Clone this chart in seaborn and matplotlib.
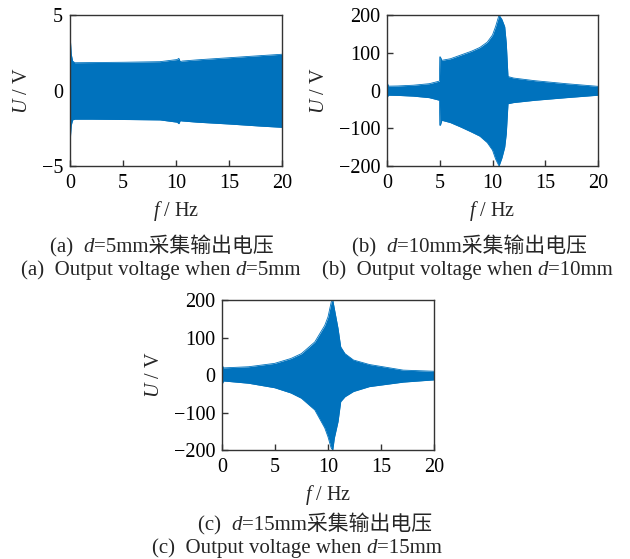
import numpy as np
import pandas as pd
import matplotlib
matplotlib.use("Agg")
import matplotlib.pyplot as plt
import seaborn as sns

# ---------------- data (envelopes of the output voltage signals) ----------------
# (a) d = 5 mm
f_a = [0.0, 0.05, 0.12, 0.25, 0.45, 2.0, 5.0, 8.5, 10.1, 10.27, 10.4, 10.6, 12.0, 15.0, 18.0, 20.0]
up_a = [3.5, 3.2, 2.4, 1.95, 1.84, 1.85, 1.87, 1.91, 2.05, 2.13, 1.91, 1.95, 2.03, 2.17, 2.31, 2.40]
lo_a = [-3.4, -3.0, -2.3, -1.95, -1.90, -1.90, -1.92, -1.95, -2.10, -2.20, -2.00, -2.02, -2.10, -2.22, -2.36, -2.44]

# (b) d = 10 mm
f_b = [0.0, 0.05, 0.15, 1.0, 2.5, 4.0, 4.7, 4.97, 5.0, 5.06, 5.2, 6.0, 7.0, 8.0, 8.8, 9.5, 10.0,
       10.3, 10.62, 10.9, 11.16, 11.31, 11.47, 12.0, 14.0, 17.0, 20.0]
up_b = [22, 18, 11.5, 12, 14, 18, 23, 25, 89, 89, 80, 84, 94, 104, 114, 128, 147,
        170, 200, 188, 169, 125, 37, 33, 26, 18, 11]
lo_b = [-20, -16, -12.5, -13, -15, -19, -24, -26, -92, -92, -79, -85, -97, -110, -121, -138, -158,
        -182, -200, -178, -150, -114, -35, -32, -26, -19, -12.5]

# (c) d = 15 mm
f_c = [0.0, 0.05, 0.15, 2.5, 4.97, 6.5, 7.49, 8.75, 9.69, 10.0, 10.3, 10.45, 10.6, 10.95,
       11.2, 11.6, 12.4, 13.9, 17.1, 20.0]
up_c = [30, 24, 19, 22, 31, 44, 57, 88, 132, 155, 194, 200, 177, 124,
        75, 57, 40, 28, 13, 10]
lo_c = [-28, -22, -16, -22, -34, -48, -62, -93, -141, -165, -195, -200, -168, -124,
        -71, -58, -44, -31, -19, -13]

x_ticks = [0, 5, 10, 15, 20]
y_ticks_a = [-5, 0, 5]
y_ticks_bc = [-200, -100, 0, 100, 200]

# ---------------- style ----------------
sns.set_theme(style="ticks")
plt.rcParams["font.family"] = ["Liberation Serif", "Noto Sans CJK SC"]
plt.rcParams["mathtext.fontset"] = "custom"
plt.rcParams["mathtext.rm"] = "Liberation Serif"
plt.rcParams["mathtext.it"] = "Liberation Serif:italic"
plt.rcParams["axes.unicode_minus"] = True

BLUE = "#0072BD"
SPINE = "#333333"
FS = 14.5
CFS = 15

W, H = 630, 559
fig = plt.figure(figsize=(W / 100, H / 100), dpi=100)
fig.patch.set_facecolor("white")


def make_axes(left, top, right, bottom):
    return fig.add_axes([left / W, 1 - bottom / H, (right - left) / W, (bottom - top) / H])


ax_a = make_axes(70, 15, 282, 166)
ax_b = make_axes(387, 15, 598, 166)
ax_c = make_axes(222, 300, 434, 450)

panels = [
    (ax_a, f_a, up_a, lo_a, (-5, 5), y_ticks_a),
    (ax_b, f_b, up_b, lo_b, (-200, 200), y_ticks_bc),
    (ax_c, f_c, up_c, lo_c, (-200, 200), y_ticks_bc),
]

for ax, f, up, lo, ylim, yt in panels:
    df = pd.DataFrame({"f": f, "up": up, "lo": lo})
    ax.fill_between(df["f"], df["lo"], df["up"], color=BLUE, lw=0)
    sns.lineplot(data=df, x="f", y="up", ax=ax, color=BLUE, lw=0.6, estimator=None, sort=False)
    sns.lineplot(data=df, x="f", y="lo", ax=ax, color=BLUE, lw=0.6, estimator=None, sort=False)
    ax.set_xlim(0, 20)
    ax.set_ylim(*ylim)
    ax.set_xticks(x_ticks)
    ax.set_yticks(yt)
    ax.tick_params(direction="in", length=4, width=1, colors=SPINE, labelcolor="black",
                   labelsize=FS, pad=5, top=False, right=False)
    ax.tick_params(axis="x", pad=6)
    for s in ax.spines.values():
        s.set_visible(True)
        s.set_color(SPINE)
        s.set_linewidth(1.0)
    ax.set_xlabel("$f$ / Hz", fontsize=FS, labelpad=4)
    ax.set_ylabel("$U$ / V", fontsize=FS, labelpad=7)
    ax.set_facecolor("white")


def caption(x_px, y_px, parts):
    prev = None
    for txt, style in parts:
        if prev is None:
            prev = fig.text(x_px / W, 1 - y_px / H, txt, ha="left", va="bottom",
                            fontsize=CFS, fontstyle=style)
        else:
            prev = fig.add_artist(matplotlib.text.Annotation(
                txt, xy=(1, 0), xycoords=prev, ha="left", va="bottom",
                fontsize=CFS, fontstyle=style, annotation_clip=False))


caption(50, 257, [("(a)  ", "normal"), ("d", "italic"), ("=5mm采集输出电压", "normal")])
caption(21, 280, [("(a)  Output voltage when ", "normal"), ("d", "italic"), ("=5mm", "normal")])
caption(352, 257, [("(b)  ", "normal"), ("d", "italic"), ("=10mm采集输出电压", "normal")])
caption(322, 280, [("(b)  Output voltage when ", "normal"), ("d", "italic"), ("=10mm", "normal")])
caption(198, 535, [("(c)  ", "normal"), ("d", "italic"), ("=15mm采集输出电压", "normal")])
caption(152, 558, [("(c)  Output voltage when ", "normal"), ("d", "italic"), ("=15mm", "normal")])

fig.savefig("out.png", dpi=100, facecolor="white")
